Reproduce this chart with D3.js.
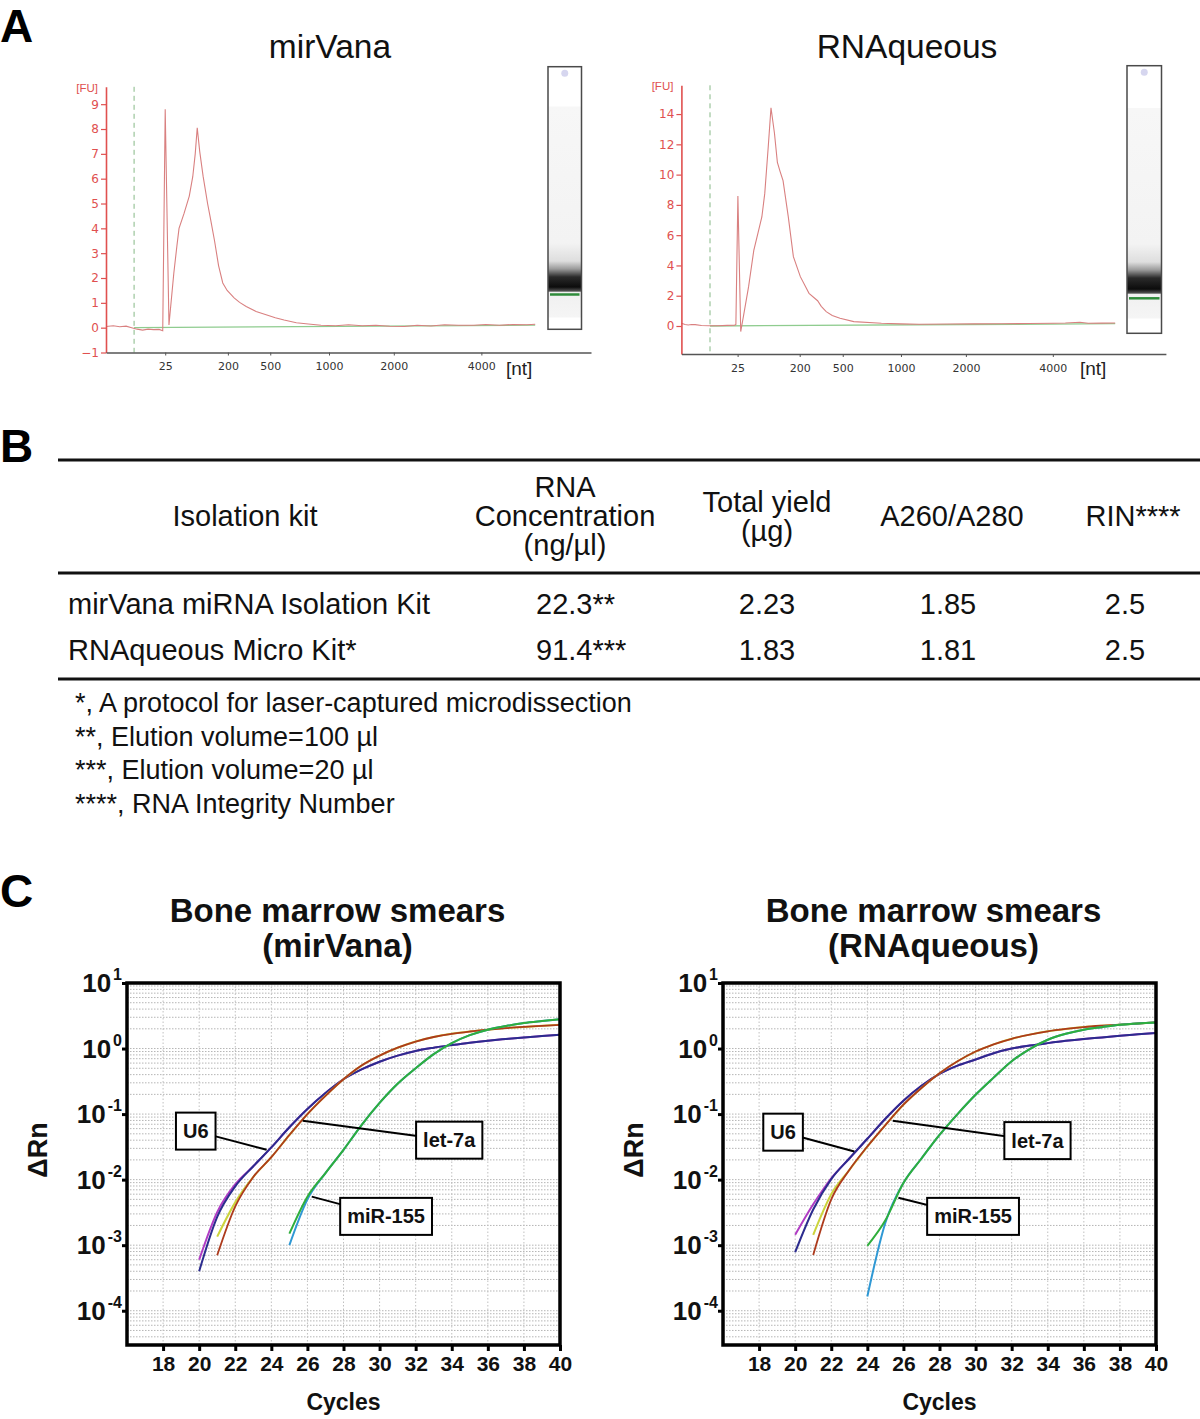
<!DOCTYPE html>
<html>
<head>
<meta charset="utf-8">
<script src="https://cdn.jsdelivr.net/npm/d3@7"></script>
<style>
  body { margin: 0; background: #fff; }
  text { font-family: "Liberation Sans", Arial, sans-serif; }
</style>
</head>
<body>
<div id="fig"></div>
<script>
// ---------- panel A: Bioanalyzer traces (x = migration time in s, y = FU) ----------
const ladderNt = [25, 200, 500, 1000, 2000, 4000];
const ladderTimeMirvana = [25.47, 32.32, 36.95, 43.37, 50.45, 60.02];
const ladderTimeRnaqueous = [25.15, 31.94, 36.65, 43.02, 50.12, 59.63];

const traceMirvana = [
  [19.0, 0.05], [19.8, 0.08], [20.5, 0.04], [21.2, 0.06], [21.8, 0.0], [22.4, -0.06],
  [23.0, -0.1], [23.6, -0.06], [24.2, -0.08], [24.8, -0.07], [25.2, -0.12], [25.47, 8.8],
  [25.88, 0.11], [26.41, 2.19], [26.75, 3.3], [26.98, 4.0], [27.53, 4.6], [28.1, 5.3],
  [28.48, 6.08], [28.75, 7.0], [28.97, 8.05], [29.24, 7.1], [29.61, 6.1], [30.1, 5.0],
  [30.36, 4.5], [30.86, 3.5], [31.3, 2.5], [31.76, 1.8], [32.24, 1.5], [33.0, 1.2],
  [33.6, 1.02], [34.32, 0.85], [35.4, 0.65], [36.58, 0.51], [37.5, 0.4],
  [38.46, 0.31], [39.8, 0.2], [41.1, 0.15], [42.5, 0.1], [44.1, 0.08], [45.5, 0.12],
  [47.0, 0.08], [48.5, 0.1], [50.0, 0.06], [51.6, 0.05], [53.0, 0.1], [54.5, 0.07],
  [56.0, 0.12], [57.5, 0.1], [59.2, 0.1], [60.5, 0.13], [62.0, 0.1], [63.5, 0.13],
  [65.0, 0.12], [65.9, 0.14]
];
const traceRnaqueous = [
  [19.0, 0.18], [19.4, 0.1], [19.75, 0.07], [20.1, 0.1], [20.5, 0.09], [21.2, 0.03],
  [22.0, 0.02], [23.0, 0.02], [24.0, 0.04], [24.84, 0.06], [24.96, 0.1], [25.18, 8.59],
  [25.49, -0.37], [25.78, 0.62], [26.35, 2.6], [26.92, 5.0], [27.4, 6.2], [27.8, 7.2],
  [28.12, 8.76], [28.5, 11.84], [28.8, 14.42], [29.18, 12.73], [29.5, 10.8], [29.8, 10.2],
  [30.12, 9.6], [30.69, 7.22], [31.25, 4.58], [32.01, 3.26], [32.96, 2.16], [33.9, 1.67],
  [34.3, 1.3], [34.84, 0.95], [35.5, 0.7], [36.35, 0.51], [37.86, 0.29], [40.88, 0.18],
  [43.0, 0.14], [45.0, 0.12], [48.4, 0.13], [51.0, 0.14], [54.0, 0.15], [57.0, 0.16],
  [59.7, 0.18], [61.0, 0.2], [62.6, 0.25], [63.5, 0.18], [65.0, 0.19], [66.45, 0.2]
];
const baselineMirvana = [[22.07, 0.0], [65.9, 0.1]];
const baselineRnaqueous = [[22.13, 0.0], [66.45, 0.15]];
const markerMirvana = 22.07;
const markerRnaqueous = 22.13;

// ---------- panel B: table ----------
const tableHeader = [["Isolation kit"], ["RNA", "Concentration", "(ng/\u00b5l)"], ["Total yield", "(\u00b5g)"], ["A260/A280"], ["RIN****"]];
const kits = ["mirVana miRNA Isolation Kit", "RNAqueous Micro Kit*"];
const rnaConc = [22.3, 91.4];
const rnaConcMark = ["**", "***"];
const totalYield = [2.23, 1.83];
const a260a280 = [1.85, 1.81];
const rin = [2.5, 2.5];
const footnotes = [
  "*, A protocol for laser-captured microdissection",
  "**, Elution volume=100 \u00b5l",
  "***, Elution volume=20 \u00b5l",
  "****, RNA Integrity Number"
];

// ---------- panel C: qPCR amplification plots (delta Rn per cycle) ----------
const cycles = [20, 21, 22, 23, 24, 25, 26, 27, 28, 29, 30, 31, 32, 33, 34, 35, 36, 37, 38, 39, 40];
const mirvanaU6a = [4.0e-4, 2.7e-3, 7.9e-3, 0.016, 0.031, 0.063, 0.12, 0.21, 0.34, 0.48, 0.63, 0.78, 0.92, 1.03, 1.13, 1.23, 1.32, 1.40, 1.48, 1.55, 1.62];
const mirvanaU6b = [6.0e-4, 3.2e-3, 8.5e-3, 0.016, 0.031, 0.063, 0.12, 0.21, 0.34, 0.48, 0.63, 0.78, 0.92, 1.03, 1.13, 1.23, 1.32, 1.40, 1.48, 1.55, 1.62];
const mirvanaLet7a = [null, 7.0e-4, 3.9e-3, 0.011, 0.022, 0.048, 0.1, 0.19, 0.34, 0.55, 0.78, 1.03, 1.28, 1.5, 1.68, 1.82, 1.94, 2.05, 2.14, 2.22, 2.3];
const mirvanaLet7b = [null, 1.35e-3, 4.5e-3, 0.011, 0.022, 0.048, 0.1, 0.19, 0.34, 0.55, 0.78, 1.03, 1.28, 1.5, 1.68, 1.82, 1.94, 2.05, 2.14, 2.22, 2.3];
const mirvanaMiR155a = [null, null, null, null, null, 1.5e-3, 5.5e-3, 0.0126, 0.0285, 0.068, 0.148, 0.29, 0.5, 0.82, 1.21, 1.6, 1.94, 2.2, 2.45, 2.63, 2.8];
const mirvanaMiR155b = [null, null, null, null, null, 1.0e-3, 5.0e-3, 0.0126, 0.0285, 0.068, 0.148, 0.29, 0.5, 0.82, 1.21, 1.6, 1.94, 2.2, 2.45, 2.63, 2.8];

const rnaqU6a = [7.8e-4, 3.5e-3, 0.0102, 0.021, 0.042, 0.085, 0.16, 0.27, 0.41, 0.55, 0.68, 0.85, 1.0, 1.11, 1.21, 1.31, 1.4, 1.48, 1.57, 1.65, 1.73];
const rnaqU6b = [1.44e-3, 4.2e-3, 0.0105, 0.021, 0.042, 0.085, 0.16, 0.27, 0.41, 0.55, 0.68, 0.85, 1.0, 1.11, 1.21, 1.31, 1.4, 1.48, 1.57, 1.65, 1.73];
const rnaqLet7a = [null, 7.1e-4, 5.0e-3, 0.014, 0.032, 0.068, 0.139, 0.25, 0.42, 0.64, 0.9, 1.16, 1.41, 1.63, 1.83, 1.99, 2.13, 2.23, 2.31, 2.41, 2.51];
const rnaqLet7b = [null, 1.44e-3, 6.0e-3, 0.014, 0.032, 0.068, 0.139, 0.25, 0.42, 0.64, 0.9, 1.16, 1.41, 1.63, 1.83, 1.99, 2.13, 2.23, 2.31, 2.41, 2.51];
const rnaqMiR155a = [null, null, null, null, 9.8e-4, 2.4e-3, 8.9e-3, 0.021, 0.048, 0.1, 0.197, 0.36, 0.64, 0.98, 1.36, 1.68, 1.94, 2.12, 2.3, 2.42, 2.5];
const rnaqMiR155b = [null, null, null, null, 1.65e-4, 2.2e-3, 8.9e-3, 0.021, 0.048, 0.1, 0.197, 0.36, 0.64, 0.98, 1.36, 1.68, 1.94, 2.12, 2.3, 2.42, 2.5];

const yDecades = [1e-4, 1e-3, 1e-2, 1e-1, 1, 10];
const cycleTicks = [18, 20, 22, 24, 26, 28, 30, 32, 34, 36, 38, 40];

// label anchors in data units: box centre (cycle, dRn) and the point on the curve
const mirvanaLabels = [
  { label: "U6", cx: 19.81, cy: 0.055, px: 23.74, py: 0.0285 },
  { label: "let-7a", cx: 33.86, cy: 0.04, px: 25.74, py: 0.079 },
  { label: "miR-155", cx: 30.36, cy: 0.00275, px: 26.24, py: 0.0055 }
];
const rnaqLabels = [
  { label: "U6", cx: 19.33, cy: 0.053, px: 23.28, py: 0.0269 },
  { label: "let-7a", cx: 33.43, cy: 0.0394, px: 25.41, py: 0.079 },
  { label: "miR-155", cx: 29.86, cy: 0.00275, px: 25.72, py: 0.0053 }
];

const w = 1200, h = 1419;
const svg = d3.select("#fig").append("svg").attr("width", w).attr("height", h);

// panel letters
[["A", 42], ["B", 462], ["C", 907]].forEach(([t, yy]) => {
  svg.append("text").attr("x", 0).attr("y", yy)
    .attr("font-size", 46).attr("font-weight", "bold").text(t);
});

// ================= panel A =================
const timeDomain = [19, 72];
const defs = svg.append("defs");

function drawTrace(cfg) {
  const x = d3.scaleLinear().domain(timeDomain).range([cfg.left, cfg.right]);
  const y = d3.scaleLinear().domain(cfg.fuDomain).range([cfg.bottom, cfg.top]);
  const g = svg.append("g");

  g.append("text").attr("x", cfg.titleX).attr("y", 58).attr("text-anchor", "middle")
    .attr("font-size", 33.5).attr("fill", "#111").text(cfg.title);

  // lower marker line
  g.append("line")
    .attr("x1", x(cfg.marker)).attr("x2", x(cfg.marker))
    .attr("y1", y(cfg.fuDomain[1])).attr("y2", y(cfg.fuDomain[0]))
    .attr("stroke", "#86b886").attr("stroke-width", 1).attr("stroke-dasharray", "5,4");

  const line = d3.line().x(d => x(d[0])).y(d => y(d[1]));

  g.append("path").datum(cfg.baseline).attr("d", line)
    .attr("fill", "none").attr("stroke", "#8fcc8f").attr("stroke-width", 1.3);

  g.append("path").datum(cfg.trace).attr("d", line)
    .attr("fill", "none").attr("stroke", "#d98080").attr("stroke-width", 1.1);

  // y axis (red)
  const yAxis = g.append("g").attr("transform", `translate(${cfg.left},0)`)
    .call(d3.axisLeft(y).tickValues(cfg.fuTicks).tickSize(5).tickSizeOuter(0).tickPadding(2));
  yAxis.select(".domain").attr("stroke", "#e0504f").attr("stroke-width", 1.6);
  yAxis.selectAll(".tick line").attr("stroke", "#e0504f").attr("stroke-width", 1.2);
  yAxis.selectAll(".tick text").attr("fill", "#e0504f")
    .style("font-family", "'DejaVu Sans', sans-serif").style("font-size", "12px");

  g.append("text").attr("x", cfg.left - 8).attr("y", y(cfg.fuDomain[1]) + 5)
    .attr("text-anchor", "end").attr("font-size", 11.5).attr("fill", "#e0504f").text("[FU]");

  // x axis (ladder positions labelled in nt)
  const xAxis = g.append("g").attr("transform", `translate(0,${cfg.bottom})`)
    .call(d3.axisBottom(x).tickValues(cfg.ladder).tickFormat((d, i) => ladderNt[i])
      .tickSize(3).tickSizeOuter(0).tickPadding(7));
  xAxis.select(".domain").attr("stroke", "#555").attr("stroke-width", 1.6);
  xAxis.selectAll(".tick line").attr("stroke", "#555");
  xAxis.selectAll(".tick text").attr("fill", "#333")
    .style("font-family", "'DejaVu Sans', sans-serif").style("font-size", "11px");

  g.append("text").attr("x", cfg.ntX).attr("y", 375).attr("font-size", 19)
    .attr("fill", "#222").text("[nt]");

  // gel lane
  const L = cfg.lane;
  const grad = defs.append("linearGradient").attr("id", cfg.id + "-lane")
    .attr("gradientUnits", "userSpaceOnUse")
    .attr("x1", 0).attr("x2", 0).attr("y1", L.y).attr("y2", L.y + L.h);
  const off = yy => (yy - L.y) / L.h;
  [
    [L.y, "#ffffff"], [L.grayTop - 1, "#ffffff"], [L.grayTop, "#f7f7f7"],
    [L.band[0] - 30, "#f3f3f3"], [L.band[0] - 12, "#dedede"], [L.band[0] - 4, "#9a9a9a"],
    [L.band[0] + 4, "#2a2a2a"], [L.band[1] - 4, "#0c0c0c"], [L.band[1], "#505050"],
    [L.band[1] + 1.5, "#f0f0f0"], [L.grayBottom, "#f5f5f5"], [L.grayBottom + 1, "#ffffff"],
    [L.y + L.h, "#ffffff"]
  ].forEach(([yy, c]) => grad.append("stop").attr("offset", off(yy)).attr("stop-color", c));

  g.append("rect").attr("x", L.x).attr("y", L.y).attr("width", L.w).attr("height", L.h)
    .attr("fill", `url(#${cfg.id}-lane)`).attr("stroke", "#4a4a4a").attr("stroke-width", 1.5);
  g.append("line").attr("x1", L.x + 2).attr("x2", L.x + L.w - 2)
    .attr("y1", L.green).attr("y2", L.green)
    .attr("stroke", "#2e8b3a").attr("stroke-width", 2.5);
  g.append("circle").attr("cx", L.x + L.w / 2).attr("cy", L.y + 6.5).attr("r", 3.5)
    .attr("fill", "#d6d6ef");
}

drawTrace({
  id: "mirvana", title: "mirVana", titleX: 330,
  left: 106, right: 591, top: 86.8, bottom: 352.5,
  fuDomain: [-1, 9.7], fuTicks: [-1, 0, 1, 2, 3, 4, 5, 6, 7, 8, 9],
  ladder: ladderTimeMirvana, marker: markerMirvana,
  trace: traceMirvana, baseline: baselineMirvana, ntX: 506,
  lane: { x: 548, y: 66.7, w: 33.5, h: 262.6, grayTop: 107, band: [273, 291], green: 294.5, grayBottom: 317 }
});
drawTrace({
  id: "rnaq", title: "RNAqueous", titleX: 907,
  left: 681.4, right: 1165.9, top: 85.3, bottom: 354,
  fuDomain: [-1.85, 15.9], fuTicks: [0, 2, 4, 6, 8, 10, 12, 14],
  ladder: ladderTimeRnaqueous, marker: markerRnaqueous,
  trace: traceRnaqueous, baseline: baselineRnaqueous, ntX: 1080,
  lane: { x: 1127, y: 65.7, w: 34.5, h: 267.6, grayTop: 108.5, band: [274, 293], green: 298.3, grayBottom: 318 }
});

// ================= panel B =================
const tb = svg.append("g");
const fs = 29;
[460, 573, 679].forEach(yy => {
  tb.append("line").attr("x1", 58).attr("x2", 1200).attr("y1", yy).attr("y2", yy)
    .attr("stroke", "#111").attr("stroke-width", 3.2);
});
const headX = [245, 565, 767, 952, 1133];
tableHeader.forEach((lines, i) => {
  const lh = 29;
  const y0 = 526 - (lines.length - 1) * lh / 2;
  lines.forEach((t, j) => {
    tb.append("text").attr("x", headX[i]).attr("y", y0 + j * lh)
      .attr("text-anchor", "middle").attr("font-size", fs).attr("fill", "#111").text(t);
  });
});
const rowY = [614, 660];
const f2 = d3.format(".2f"), f1 = d3.format(".1f");
kits.forEach((k, i) => {
  const yy = rowY[i];
  tb.append("text").attr("x", 68).attr("y", yy).attr("font-size", fs).attr("fill", "#111").text(k);
  tb.append("text").attr("x", 536).attr("y", yy).attr("font-size", fs).attr("fill", "#111")
    .text(f1(rnaConc[i]) + rnaConcMark[i]);
  tb.append("text").attr("x", 767).attr("y", yy).attr("text-anchor", "middle").attr("font-size", fs)
    .attr("fill", "#111").text(f2(totalYield[i]));
  tb.append("text").attr("x", 948).attr("y", yy).attr("text-anchor", "middle").attr("font-size", fs)
    .attr("fill", "#111").text(f2(a260a280[i]));
  tb.append("text").attr("x", 1125).attr("y", yy).attr("text-anchor", "middle").attr("font-size", fs)
    .attr("fill", "#111").text(f1(rin[i]));
});
footnotes.forEach((t, i) => {
  tb.append("text").attr("x", 75).attr("y", 712 + i * 33.5).attr("font-size", 27)
    .attr("fill", "#111").text(t);
});

// ================= panel C =================
const cycleDomain = [16, 40];
const rnDomain = [3e-5, 10];

function drawQpcr(cfg) {
  const x = d3.scaleLinear().domain(cycleDomain).range([cfg.left, cfg.right]);
  const y = d3.scaleLog().domain(rnDomain).range([cfg.bottom, cfg.top]);
  const g = svg.append("g");
  const cx = (cfg.left + cfg.right) / 2;

  cfg.title.forEach((t, i) => {
    g.append("text").attr("x", cx - 6).attr("y", 922 + i * 35).attr("text-anchor", "middle")
      .attr("font-size", 33).attr("font-weight", "bold").attr("fill", "#111").text(t);
  });

  // grid
  g.append("g").selectAll("line").data(y.ticks()).join("line")
    .attr("x1", cfg.left).attr("x2", cfg.right)
    .attr("y1", d => y(d)).attr("y2", d => y(d))
    .attr("stroke", "#b5b5b5").attr("stroke-width", 1).attr("stroke-dasharray", "1.5,1.5");
  g.append("g").selectAll("line").data(x.ticks(12)).join("line")
    .attr("x1", d => x(d)).attr("x2", d => x(d))
    .attr("y1", cfg.top).attr("y2", cfg.bottom)
    .attr("stroke", "#c0c0c0").attr("stroke-width", 1).attr("stroke-dasharray", "1.5,2");

  // curves
  const line = d3.line()
    .defined(d => d[1] != null)
    .x(d => x(d[0])).y(d => y(d[1]))
    .curve(d3.curveMonotoneX);
  cfg.series.forEach(s => {
    g.append("path").datum(cycles.map((c, i) => [c, s.values[i]]))
      .attr("d", line).attr("fill", "none")
      .attr("stroke", s.color).attr("stroke-width", s.width);
  });

  // frame
  g.append("rect").attr("x", cfg.left).attr("y", cfg.top)
    .attr("width", cfg.right - cfg.left).attr("height", cfg.bottom - cfg.top)
    .attr("fill", "none").attr("stroke", "#000").attr("stroke-width", 3.5);

  // y axis
  const ya = g.append("g").attr("transform", `translate(${cfg.left},0)`)
    .call(d3.axisLeft(y).tickValues(yDecades).tickSize(5).tickFormat(""));
  ya.select(".domain").remove();
  ya.selectAll(".tick line").attr("stroke", "#000").attr("stroke-width", 3);
  ya.selectAll(".tick text").remove();
  yDecades.forEach(v => {
    const t = g.append("text").attr("x", cfg.left - 5).attr("y", y(v) + 9)
      .attr("text-anchor", "end").attr("font-weight", "bold").attr("fill", "#111");
    t.append("tspan").attr("font-size", 26).text("10");
    t.append("tspan").attr("font-size", 16).attr("dy", -12).attr("dx", 2).text(Math.round(Math.log10(v)));
  });

  // x axis
  const xa = g.append("g").attr("transform", `translate(0,${cfg.bottom})`)
    .call(d3.axisBottom(x).tickValues(cycleTicks).tickSize(6).tickSizeOuter(0).tickPadding(5));
  xa.select(".domain").remove();
  xa.selectAll(".tick line").attr("stroke", "#000").attr("stroke-width", 3);
  xa.selectAll(".tick text").attr("fill", "#111").attr("font-size", 21)
    .attr("font-weight", "bold").style("font-family", "'Liberation Sans', Arial, sans-serif");

  g.append("text").attr("x", cx).attr("y", 1410).attr("text-anchor", "middle")
    .attr("font-size", 23).attr("font-weight", "bold").attr("fill", "#111").text("Cycles");
  g.append("text").attr("transform", `translate(${cfg.left - 80},${1150}) rotate(-90)`)
    .attr("text-anchor", "middle").attr("font-size", 27).attr("font-weight", "bold")
    .attr("fill", "#111").text("\u0394Rn");

  // labels with leader lines
  cfg.labels.forEach(a => {
    const bx = x(a.cx), by = y(a.cy);
    g.append("line").attr("x1", bx).attr("y1", by).attr("x2", x(a.px)).attr("y2", y(a.py))
      .attr("stroke", "#000").attr("stroke-width", 2);
    const box = g.append("rect").attr("fill", "#fff").attr("stroke", "#000").attr("stroke-width", 2);
    const t = g.append("text").attr("x", bx).attr("y", by + 7).attr("text-anchor", "middle")
      .attr("font-size", 20).attr("font-weight", "bold").attr("fill", "#111").text(a.label);
    const tw = t.node().getComputedTextLength() + 14;
    box.attr("x", bx - tw / 2).attr("y", by - 18.5).attr("width", tw).attr("height", 37);
  });
}

const colU6a = "#2c2c8e", colU6b = "#b03cc4";
const colLetA = "#ad3a1c", colLetB = "#ccd43c";
const colMiA = "#2fae3c", colMiB = "#2f98d4";

drawQpcr({
  left: 127, right: 560, top: 983, bottom: 1345,
  title: ["Bone marrow smears", "(mirVana)"],
  series: [
    { values: mirvanaU6b, color: colU6b, width: 2 },
    { values: mirvanaU6a, color: colU6a, width: 2 },
    { values: mirvanaLet7b, color: colLetB, width: 2 },
    { values: mirvanaLet7a, color: colLetA, width: 1.8 },
    { values: mirvanaMiR155b, color: colMiB, width: 2 },
    { values: mirvanaMiR155a, color: colMiA, width: 2 }
  ],
  labels: mirvanaLabels
});
drawQpcr({
  left: 723, right: 1156, top: 983, bottom: 1345,
  title: ["Bone marrow smears", "(RNAqueous)"],
  series: [
    { values: rnaqU6b, color: colU6b, width: 2 },
    { values: rnaqU6a, color: colU6a, width: 2 },
    { values: rnaqLet7b, color: colLetB, width: 2 },
    { values: rnaqLet7a, color: colLetA, width: 1.8 },
    { values: rnaqMiR155b, color: colMiB, width: 2 },
    { values: rnaqMiR155a, color: colMiA, width: 2 }
  ],
  labels: rnaqLabels
});
</script>
</body>
</html>
